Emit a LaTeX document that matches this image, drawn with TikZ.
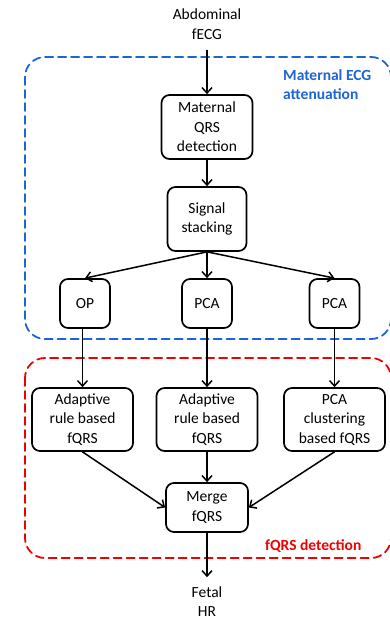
\documentclass[tikz,border=0pt]{standalone}
\usepackage{fontspec}
\setmainfont{Carlito}
\usetikzlibrary{arrows.meta}
\definecolor{matblue}{RGB}{30,100,215}
\definecolor{fqrsred}{RGB}{240,0,0}

\begin{document}
\begin{tikzpicture}[x=1pt, y=-1pt, >={Straight Barb[length=5.5pt,width=10pt]},
	line cap=round, line join=round, font=\fontsize{15.5}{19.5}\selectfont,
	block/.style={draw, line width=1.7pt, rounded corners=8pt, align=center, inner sep=0pt},
	terminal/.style={align=center, inner sep=0pt},
	flow/.style={->, line width=1.5pt},
	group/.style={line width=1.8pt, rounded corners=20pt, dash pattern=on 8pt off 5pt},
	grouplabel/.style={font=\fontsize{15.5}{19.5}\selectfont\bfseries, align=left, inner sep=0pt}]
	
	\useasboundingbox (0,0) rectangle (390,620);
	
	%========================
	% Groups
	%========================
	\draw[group, matblue] (25,57) rectangle (391,339);
	\node[grouplabel, matblue, anchor=west] (matlabel) at (283,84.5) {Maternal ECG\\attenuation};
	\draw[group, fqrsred] (25,358) rectangle (391,558);
	\node[grouplabel, fqrsred, anchor=west] (fqrslabel) at (265,546) {fQRS detection};
	
	%========================
	% Maternal ECG attenuation
	%========================
	\node[terminal] (input) at (207,24) {Abdominal\\fECG};
	\node[block, minimum width=91pt, minimum height=64pt] (mqrs) at (207,127) {Maternal\\QRS\\detection};
	\node[block, minimum width=79pt, minimum height=64pt] (stack) at (207,219) {Signal\\stacking};
	% three branches
	\node[block, minimum width=50pt, minimum height=49pt] (op) at (85,303.5) {OP};
	\node[block, minimum width=50pt, minimum height=49pt] (pcamid) at (207,303.5) {PCA};
	\node[block, minimum width=50pt, minimum height=49pt] (pcaright) at (334.5,303.5) {PCA};
	
	%========================
	% fQRS detection
	%========================
	\node[block, minimum width=101pt, minimum height=63pt] (ruleleft) at (82.5,419.5) {Adaptive\\rule based\\fQRS};
	\node[block, minimum width=101pt, minimum height=63pt] (rulemid) at (207,419.5) {Adaptive\\rule based\\fQRS};
	\node[block, minimum width=101pt, minimum height=63pt] (cluster) at (334.5,419.5) {PCA\\clustering\\based fQRS};
	\node[block, minimum width=82pt, minimum height=49pt] (merge) at (207,507.5) {Merge\\fQRS};
	\node[terminal] (output) at (207,601.5) {Fetal\\HR};
	
	% connectors
	\draw[flow, shorten <=11pt] (input) -- (mqrs);
	\draw[flow] (mqrs) -- (stack);
	\draw[flow] (stack.south) -- (op.north);
	\draw[flow] (stack.south) -- (pcamid.north);
	\draw[flow] (stack.south) -- (pcaright.north);
	\draw[flow] (op.south -| ruleleft.north) -- (ruleleft.north);
	\draw[flow] (pcamid) -- (rulemid);
	\draw[flow] (pcaright.south -| cluster.north) -- (cluster.north);
	\draw[flow] (ruleleft.south) -- (merge.west);
	\draw[flow] (rulemid) -- (merge);
	\draw[flow] (cluster.south) -- (merge.east);
	\draw[flow, shorten >=9pt] (merge) -- (output);
	
\end{tikzpicture}
\end{document}
